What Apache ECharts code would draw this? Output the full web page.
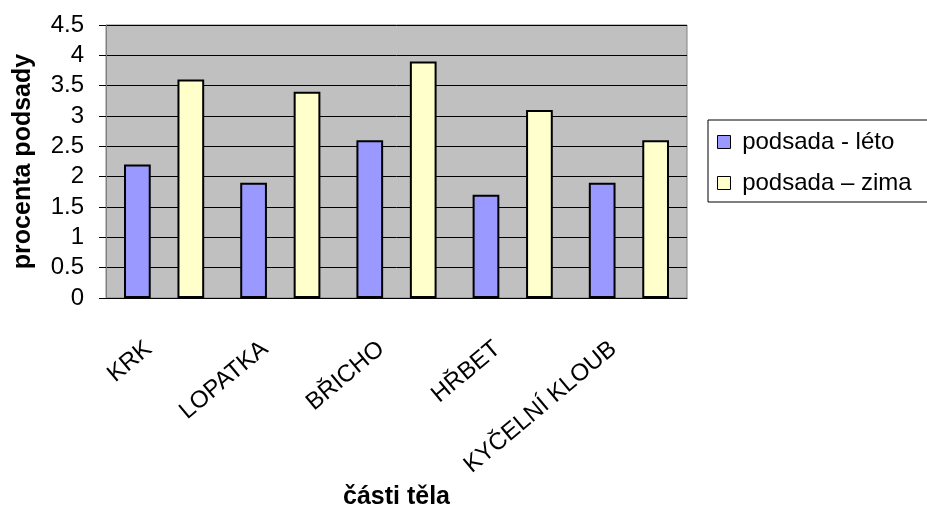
<!DOCTYPE html>
<html lang="cs">
<head>
    <meta charset="utf-8" />
    <title>podsada</title>
    <script src="https://cdn.jsdelivr.net/npm/echarts@6/dist/echarts.min.js"></script>
    <style>
        body { margin: 0; background: #ffffff; }
        #main { width: 927px; height: 512px; }
    </style>
</head>
<body>
<div id="main"></div>
<script type="text/javascript">
    let categories = ['KRK', 'LOPATKA', 'BŘICHO', 'HŘBET', 'KYČELNÍ KLOUB']
    let valuesLeto = [2.2, 1.9, 2.6, 1.7, 1.9]
    let valuesZima = [3.6, 3.4, 3.9, 3.1, 2.6]
    let nameLeto = 'podsada - léto'
    let nameZima = 'podsada – zima'

    let fontFamily = '"Liberation Sans", Arial, sans-serif'
    let fontSize = 24
    let titleSize = 25
    let colorLeto = '#9999ff'
    let colorZima = '#ffffcc'

    let myChart = echarts.init(document.getElementById('main'))

    myChart.setOption({
        animation: false,
        backgroundColor: '#ffffff',
        textStyle: { fontFamily: fontFamily },
        grid: {
            left: 106,
            top: 25,
            right: 240,
            bottom: 214,
            outerBoundsMode: 'none',
            containLabel: false,
            show: true,
            backgroundColor: '#c0c0c0',
            borderColor: '#808080',
            borderWidth: 1,
        },
        legend: {
            orient: 'vertical',
            left: 708,
            top: 120,
            padding: [10, 17, 7, 9],
            itemGap: 17,
            itemWidth: 13,
            itemHeight: 13,
            icon: 'rect',
            borderColor: '#000',
            borderWidth: 1,
            backgroundColor: '#fff',
            formatter: function (name) {
                return ' ' + name
            },
            textStyle: { fontSize: fontSize, color: '#000', fontFamily: fontFamily },
            itemStyle: { borderColor: '#000', borderWidth: 1 },
            data: [nameLeto, nameZima],
        },
        xAxis: {
            type: 'category',
            data: categories,
            name: 'části těla',
            nameLocation: 'middle',
            nameGap: 181,
            nameTextStyle: { fontSize: titleSize, fontWeight: 'bold', color: '#000' },
            axisLine: { lineStyle: { color: '#000', width: 1 } },
            axisTick: { length: 6, lineStyle: { color: '#000' } },
            axisLabel: {
                rotate: 40,
                margin: 35,
                padding: [0, 20, 0, 0],
                fontSize: fontSize,
                color: '#000',
                interval: 0,
            },
        },
        yAxis: {
            type: 'value',
            min: 0,
            max: 4.5,
            interval: 0.5,
            name: 'procenta podsady',
            nameLocation: 'middle',
            nameRotate: 90,
            nameGap: 70,
            nameTextStyle: { fontSize: titleSize, fontWeight: 'bold', color: '#000' },
            axisLine: { show: true, lineStyle: { color: '#808080', width: 1 } },
            axisTick: { show: true, length: 7, lineStyle: { color: '#000' } },
            axisLabel: { fontSize: fontSize, color: '#000', margin: 22 },
            splitLine: { lineStyle: { color: '#000', width: 1 } },
        },
        series: [
            {
                name: nameLeto,
                type: 'bar',
                data: valuesLeto,
                barWidth: '23%',
                barGap: '100%',
                itemStyle: { color: colorLeto, borderColor: '#000', borderWidth: 2 },
            },
            {
                name: nameZima,
                type: 'bar',
                data: valuesZima,
                barWidth: '23%',
                barGap: '100%',
                itemStyle: { color: colorZima, borderColor: '#000', borderWidth: 2 },
            },
        ],
    })
</script>
</body>
</html>
